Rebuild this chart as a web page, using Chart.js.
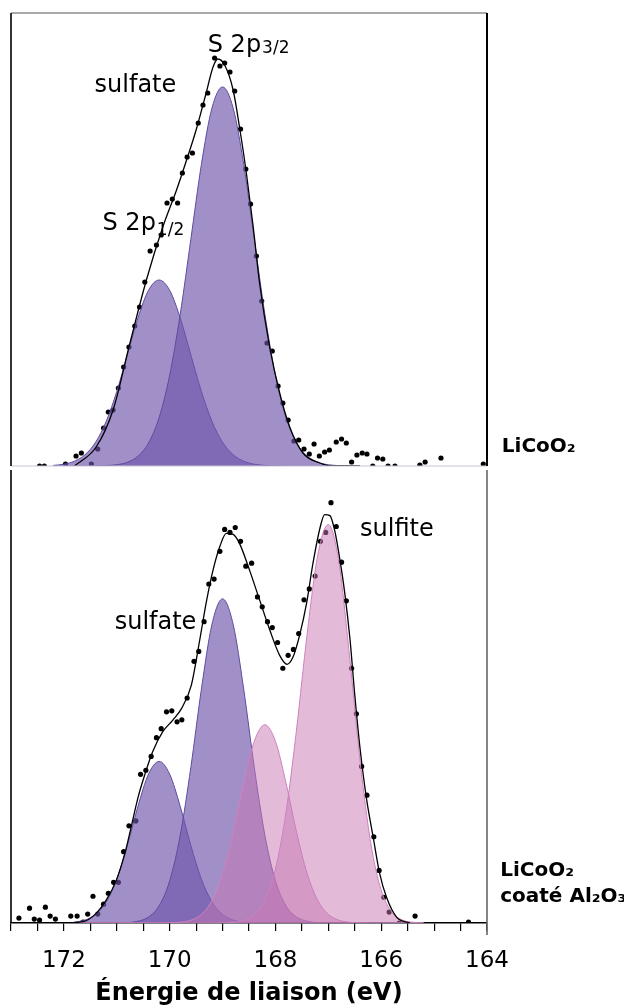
<!DOCTYPE html>
<html>
<head>
<meta charset="utf-8">
<script src="https://cdn.jsdelivr.net/npm/chart.js@4.4.1/dist/chart.umd.min.js"></script>
<style>
  html, body { margin: 0; padding: 0; background: #fff; }
  #wrap { position: relative; width: 624px; height: 1008px; overflow: hidden; }
  #top { position: absolute; left: 0; top: 0; }
  #bottom { position: absolute; left: 0; top: 466px; }
</style>
</head>
<body>
<div id="wrap">
  <canvas id="top" width="624" height="470" style="width:624px;height:470px"></canvas>
  <canvas id="bottom" width="624" height="542" style="width:624px;height:542px"></canvas>
</div>
<script>
'use strict';

const FONT = '"DejaVu Sans", sans-serif';

// S 2p spectrum of bare LiCoO2 (binding energy in eV, intensity in a.u.)
const topGridE = [172.2, 172.0, 171.8, 171.6, 171.4, 171.2, 171.0, 170.8, 170.6, 170.4, 170.2, 170.0, 169.8, 169.6, 169.4,
  169.2, 169.0, 168.8, 168.6, 168.4, 168.2, 168.0, 167.8, 167.6, 167.4, 167.2, 167.0, 166.8, 166.6];
const topSulfate12 = [0.6, 1.8, 4.8, 11.3, 23.8, 44.6, 74.5, 111.2, 148.0, 175.7, 186, 175.7, 148.0, 111.2, 74.5,
  44.6, 23.8, 11.3, 4.8, 1.8, 0.6, 0.2, 0, 0, 0, 0, 0, 0, 0];
const topSulfate32 = [0, 0, 0, 0, 0.1, 0.4, 1.3, 3.7, 9.8, 23.0, 48.4, 90.8, 151.9, 226.6, 301.6,
  358.0, 379, 358.0, 301.6, 226.6, 151.9, 90.8, 48.4, 23.0, 9.8, 3.7, 1.3, 0.4, 0.1];
const topEnvE = [171.80, 171.39, 171.07, 170.76, 170.44, 170.13, 169.87, 169.68, 169.50, 169.31, 169.18, 169.09,
  168.96, 168.80, 168.68, 168.55, 168.42, 168.30, 168.11, 167.92, 167.73, 167.48, 167.16, 166.92, 166.40];
const topEnvV = [0, 19, 56, 121, 186, 239, 276, 306, 336, 373, 399, 407,
  401, 376, 339, 293, 239, 183, 119, 73, 39, 13, 3, 0, 0];
const topDotE = [172.46, 172.37, 171.97, 171.77, 171.67, 171.48, 171.36, 171.25, 171.16, 171.07, 170.97, 170.87,
  170.77, 170.66, 170.57, 170.47, 170.37, 170.25, 170.16, 170.05, 169.95, 169.85, 169.76, 169.67, 169.57, 169.46,
  169.37, 169.28, 169.15, 169.05, 168.96, 168.86, 168.77, 168.66, 168.56, 168.47, 168.36, 168.26, 168.16, 168.06,
  167.95, 167.86, 167.76, 167.65, 167.56, 167.46, 167.36, 167.27, 167.17, 167.07, 166.98, 166.85, 166.75, 166.66,
  166.56, 166.46, 166.36, 166.27, 166.16, 166.07, 165.97, 165.87, 165.74, 165.27, 165.17, 164.87, 164.07];
const topDotV = [0, 0, 2, 10, 13, 2, 17, 38, 54, 56, 78, 99,
  119, 140, 159, 184, 215, 221, 231, 263, 267, 263, 293, 309, 313, 343,
  361, 373, 408, 400, 403, 394, 375, 337, 297, 262, 210, 165, 123, 115,
  80, 63, 46, 25, 26, 17, 12, 22, 10, 14, 16, 24, 27, 23,
  4, 11, 13, 12, 0, 8, 7, 0, 0, 1, 4, 8, 2];

// S 2p spectrum of Al2O3-coated LiCoO2
const botGridE = [171.8, 171.6, 171.4, 171.2, 171.0, 170.8, 170.6, 170.4, 170.2, 170.0, 169.8, 169.6, 169.4, 169.2,
  169.0, 168.8, 168.6, 168.4, 168.2, 168.0, 167.8, 167.6, 167.4, 167.2, 167.0, 166.8, 166.6, 166.4, 166.2, 166.0,
  165.8, 165.6, 165.4, 165.2];
const botSulfate12 = [0.9, 3.0, 8.6, 21.2, 44.2, 78.2, 117.6, 150.2, 163, 150.2, 117.6, 78.2, 44.2, 21.2,
  8.6, 3.0, 0.9, 0.2, 0, 0, 0, 0, 0, 0, 0, 0, 0, 0, 0, 0,
  0, 0, 0, 0];
const botSulfate32 = [0, 0, 0, 0, 0.1, 0.4, 1.8, 6.0, 17.3, 42.5, 88.6, 156.9, 235.9, 301.4,
  327, 301.4, 235.9, 156.9, 88.6, 42.5, 17.3, 6.0, 1.8, 0.4, 0.1, 0, 0, 0, 0, 0,
  0, 0, 0, 0];
const botSulfite12 = [0, 0, 0, 0, 0, 0, 0, 0, 0, 0.2, 0.8, 2.8, 8.7, 22.7,
  49.8, 91.4, 141.2, 183.3, 200, 183.3, 141.2, 91.4, 49.8, 22.7, 8.7, 2.8, 0.8, 0.2, 0, 0,
  0, 0, 0, 0];
const botSulfite32 = [0, 0, 0, 0, 0, 0, 0, 0, 0, 0, 0, 0, 0, 0,
  0.1, 0.6, 2.4, 8.0, 22.6, 54.4, 111.8, 195.7, 291.9, 371.1, 402, 363.7, 269.5, 163.5, 81.2, 33.0,
  11.0, 3.0, 0.7, 0.1];
const botEnvE = [172.0, 171.64, 171.39, 171.20, 171.01, 170.85, 170.73, 170.60, 170.47, 170.32, 170.13, 169.94,
  169.78, 169.59, 169.43, 169.31, 169.18, 169.05, 168.93, 168.80, 168.68, 168.49, 168.30, 168.11, 167.92, 167.78,
  167.67, 167.54, 167.41, 167.29, 167.16, 167.07, 166.97, 166.88, 166.78, 166.69, 166.59, 166.50, 166.40, 166.28,
  166.15, 166.03, 165.90, 165.71, 165.46];
const botEnvV = [0, 1.3, 9.7, 23, 43, 69.7, 96.3, 126.3, 149.7, 173, 193, 204.7,
  216, 240, 286, 323, 356, 380, 393, 392, 383, 356, 326, 296, 270, 261,
  268, 291, 323, 363, 398, 412, 411, 396, 366, 333, 286, 230, 176, 126,
  86, 50, 26, 6, 0];
const botDotE = [172.85, 172.65, 172.56, 172.46, 172.35, 172.26, 172.16, 171.87, 171.75, 171.64,
  171.55, 171.45, 171.36, 171.25, 171.16, 171.06, 170.97, 170.87, 170.77, 170.64,
  170.55, 170.45, 170.35, 170.25, 170.16, 170.06, 169.96, 169.86, 169.77, 169.67,
  169.54, 169.45, 169.35, 169.26, 169.16, 169.05, 168.96, 168.86, 168.76, 168.66,
  168.56, 168.45, 168.34, 168.25, 168.15, 168.06, 167.96, 167.86, 167.76, 167.66,
  167.56, 167.46, 167.36, 167.25, 167.15, 167.05, 166.95, 166.85, 166.75, 166.66,
  166.56, 166.47, 166.37, 166.27, 166.14, 166.04, 165.95, 165.85, 165.66, 165.36, 164.35];
const botDotV = [5, 15, 4, 3, 16, 7, 4, 7, 7, 1,
  9, 27, 9, 19, 30, 41, 41, 72, 98, 103,
  150, 154, 168, 187, 196, 213, 214, 203, 205, 227,
  264, 274, 304, 342, 347, 375, 397, 394, 399, 385,
  360, 363, 329, 319, 304, 298, 283, 257, 270, 276,
  292, 326, 337, 350, 385, 394, 424, 400, 364, 325,
  257, 211, 158, 129, 87, 53, 26, 11, 0, 7, 1];

const labelledTicks = [164, 166, 168, 170, 172];

const PURPLE_FILL = 'rgba(110, 85, 170, 0.65)';
const PURPLE_LINE = '#5d4b9f';
const PINK_FILL = 'rgba(200, 120, 180, 0.5)';
const PINK_LINE = '#d07fc0';

const pairs = (xs, ys) => xs.map((x, i) => ({ x, y: ys[i] }));

function peak(grid, vals, fill, line) {
  return {
    data: pairs(grid, vals),
    backgroundColor: fill,
    borderColor: line,
    borderWidth: 1,
    fill: 'origin',
    pointRadius: 0,
    cubicInterpolationMode: 'monotone',
    order: 2
  };
}

function envelope(es, vs) {
  return {
    data: pairs(es, vs),
    borderColor: '#000',
    borderWidth: 1.3,
    fill: false,
    pointRadius: 0,
    cubicInterpolationMode: 'monotone',
    order: 1
  };
}

function dots(es, vs) {
  return {
    data: pairs(es, vs),
    showLine: false,
    pointRadius: 2.6,
    pointBackgroundColor: '#000',
    pointBorderWidth: 0,
    order: 3
  };
}

function strokeLine(ctx, x1, y1, x2, y2) {
  ctx.beginPath();
  ctx.moveTo(x1, y1);
  ctx.lineTo(x2, y2);
  ctx.stroke();
}

// text placed at (energy, intensity); optional smaller subscript after the main text
function textLabels(id, items) {
  return {
    id,
    afterDraw(chart) {
      const { ctx, scales } = chart;
      ctx.save();
      ctx.fillStyle = '#000';
      ctx.textBaseline = 'alphabetic';
      ctx.textAlign = 'left';
      items.forEach(it => {
        const x = scales.x.getPixelForValue(it.e);
        const y = scales.y.getPixelForValue(it.v);
        ctx.font = `${it.bold ? 'bold ' : ''}${it.size}px ${FONT}`;
        ctx.fillText(it.text, x, y);
        if (it.sub) {
          const w = ctx.measureText(it.text).width;
          ctx.font = `${Math.round(it.size * 0.72)}px ${FONT}`;
          ctx.fillText(it.sub, x + w + 1, y + it.subDy);
        }
      });
      ctx.restore();
    }
  };
}

const topFrame = {
  id: 'topFrame',
  afterDraw(chart) {
    const { ctx, chartArea: a } = chart;
    ctx.save();
    ctx.strokeStyle = '#c9c6d2';
    ctx.lineWidth = 1;
    strokeLine(ctx, a.left, a.bottom, a.right, a.bottom);
    ctx.strokeStyle = '#555';
    ctx.lineWidth = 1.2;
    strokeLine(ctx, a.left, a.top, a.right, a.top);
    ctx.strokeStyle = '#000';
    ctx.lineWidth = 1.6;
    strokeLine(ctx, a.left, a.top, a.left, a.bottom);
    ctx.lineWidth = 2;
    strokeLine(ctx, a.right, a.top, a.right, a.bottom);
    ctx.restore();
  }
};

const bottomFrame = {
  id: 'bottomFrame',
  afterDraw(chart) {
    const { ctx, chartArea: a } = chart;
    ctx.save();
    ctx.strokeStyle = '#000';
    ctx.lineWidth = 1.6;
    strokeLine(ctx, a.left, a.top, a.left, a.bottom);
    ctx.strokeStyle = '#666';
    ctx.lineWidth = 1.6;
    strokeLine(ctx, a.right, a.top, a.right, a.bottom + 12);
    ctx.restore();
  }
};

const common = {
  responsive: false,
  animation: false,
  events: [],
  plugins: { legend: { display: false }, tooltip: { enabled: false } }
};

new Chart(document.getElementById('top'), {
  type: 'line',
  data: {
    datasets: [
      envelope(topEnvE, topEnvV),
      peak(topGridE, topSulfate32, PURPLE_FILL, PURPLE_LINE),
      peak(topGridE, topSulfate12, PURPLE_FILL, PURPLE_LINE),
      dots(topDotE, topDotV)
    ]
  },
  options: {
    ...common,
    layout: { padding: { left: 11, right: 137, top: 13, bottom: 4 } },
    scales: {
      x: { type: 'linear', reverse: true, min: 164, max: 173, display: false },
      y: { type: 'linear', min: 0, max: 453, display: false }
    }
  },
  plugins: [topFrame, textLabels('topText', [
    { e: 169.28, v: 414, text: 'S 2p', sub: '3/2', subDy: 1, size: 24 },
    { e: 171.42, v: 374, text: 'sulfate', size: 24 },
    { e: 171.27, v: 236, text: 'S 2p', sub: '1/2', subDy: 5, size: 24 },
    { e: 163.72, v: 14, text: 'LiCoO₂', size: 20, bold: true }
  ])]
});

new Chart(document.getElementById('bottom'), {
  type: 'line',
  data: {
    datasets: [
      envelope(botEnvE, botEnvV),
      peak(botGridE, botSulfite32, PINK_FILL, PINK_LINE),
      peak(botGridE, botSulfite12, PINK_FILL, PINK_LINE),
      peak(botGridE, botSulfate32, PURPLE_FILL, PURPLE_LINE),
      peak(botGridE, botSulfate12, PURPLE_FILL, PURPLE_LINE),
      dots(botDotE, botDotV)
    ]
  },
  options: {
    ...common,
    layout: { padding: { left: 11, right: 137, top: 0, bottom: 0 } },
    scales: {
      x: {
        type: 'linear',
        reverse: true,
        min: 164,
        max: 173,
        // fixed axis box so both panels share the same plot width
        afterFit: axis => {
          axis.height = 85;
          axis.paddingLeft = 0;
          axis.paddingRight = 0;
        },
        ticks: {
          stepSize: 0.5,
          autoSkip: false,
          maxRotation: 0,
          minRotation: 0,
          padding: 16,
          color: '#000',
          font: { family: FONT, size: 23 },
          callback: v => (labelledTicks.includes(v) ? String(v) : '')
        },
        grid: { drawOnChartArea: false, drawTicks: true, tickLength: 8, color: '#000', lineWidth: 1.2 },
        border: { display: true, color: '#000', width: 1.6 },
        title: {
          display: true,
          text: 'Énergie de liaison (eV)',
          color: '#000',
          font: { family: FONT, size: 24, weight: 'bold' },
          padding: { top: 0, bottom: 0 }
        }
      },
      y: { type: 'linear', min: 0, max: 457, display: false }
    }
  },
  plugins: [bottomFrame, textLabels('bottomText', [
    { e: 171.04, v: 297, text: 'sulfate', size: 24 },
    { e: 166.40, v: 390, text: 'sulfite', size: 24 },
    { e: 163.75, v: 47, text: 'LiCoO₂', size: 20, bold: true },
    { e: 163.75, v: 21, text: 'coaté Al₂O₃', size: 20, bold: true }
  ])]
});
</script>
</body>
</html>
